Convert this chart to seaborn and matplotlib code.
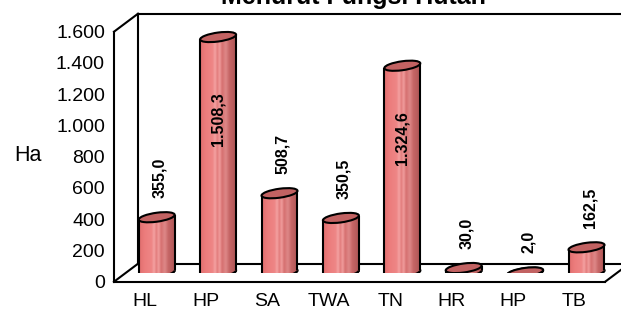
import numpy as np
import pandas as pd
import seaborn as sns
import matplotlib
matplotlib.use("Agg")
import matplotlib.pyplot as plt
import matplotlib.transforms as mtransforms
from matplotlib.patches import Ellipse, Arc
from matplotlib.path import Path
from matplotlib.lines import Line2D
from matplotlib.colors import LinearSegmentedColormap

# ---------------- data ----------------
title = "Menurut Fungsi Hutan"
y_label = "Ha"
categories = ["HL", "HP", "SA", "TWA", "TN", "HR", "HP", "TB"]
values = [355.0, 1508.3, 508.7, 350.5, 1324.6, 30.0, 2.0, 162.5]
y_ticks = [0, 200, 400, 600, 800, 1000, 1200, 1400, 1600]


def id_fmt(v, dec):
    s = f"{v:,.{dec}f}"
    return s.replace(",", "X").replace(".", ",").replace("X", ".")


value_labels = [id_fmt(v, 1) for v in values]
y_tick_labels = [id_fmt(t, 0) for t in y_ticks]

# ---------------- style ----------------
sns.set_style("white")
plt.rcParams["font.family"] = ["Liberation Sans", "DejaVu Sans"]
plt.rcParams["text.color"] = "black"
plt.rcParams["axes.labelcolor"] = "black"
plt.rcParams["xtick.color"] = "black"
plt.rcParams["ytick.color"] = "black"

W, H, DPI = 621, 310, 100
fig = plt.figure(figsize=(W / DPI, H / DPI), dpi=DPI)
fig.patch.set_facecolor("white")

# geometry (pixels)
x0_px, y0_px = 114, 28.3
cat_px = 61.4
val_px = 250 / 1600
depth = (24, 18)
mid = (12, 9)
ax_w, ax_h = W - x0_px, H - y0_px
xlim = (-0.5, -0.5 + ax_w / cat_px)
ylim = (0, ax_h / val_px)

ax = fig.add_axes([x0_px / W, y0_px / H, ax_w / W, ax_h / H])
axm = fig.add_axes([(x0_px + mid[0]) / W, (y0_px + mid[1]) / H, ax_w / W, ax_h / H])

LW = 1.5
n = len(categories)

# ---------------- front axes frame ----------------
for a in (ax, axm):
    a.set_xlim(*xlim)
    a.set_ylim(*ylim)
    a.set_autoscale_on(False)

ax.set_facecolor("white")
for s in ("top", "right"):
    ax.spines[s].set_visible(False)
ax.spines["left"].set_bounds(0, 1600)
ax.spines["bottom"].set_bounds(-0.5, n - 0.5)
for s in ("left", "bottom"):
    ax.spines[s].set_linewidth(LW)
    ax.spines[s].set_color("black")

ax.set_yticks(y_ticks)
ax.set_yticklabels(y_tick_labels)
ax.tick_params(axis="y", length=5, width=LW, pad=1.5, labelsize=14, colors="black")
ax.set_xticks(np.arange(n + 1) - 0.5)
ax.set_xticklabels([])
ax.set_xticks(np.arange(n), minor=True)
ax.set_xticklabels(categories, minor=True)
ax.tick_params(axis="x", which="major", length=5, width=LW, colors="black")
ax.tick_params(axis="x", which="minor", length=0, pad=8, labelsize=14, colors="black")

# 3-D box lines
ident = mtransforms.IdentityTransform()
def disp(a, x, y):
    return a.transData.transform((x, y))

fBL = disp(ax, -0.5, 0)
fTL = disp(ax, -0.5, 1600)
fBR = disp(ax, n - 0.5, 0)
off = np.array(depth)
bBL, bTL, bBR = fBL + off, fTL + off, fBR + off
bTR = bBR + np.array([0, fTL[1] - fBL[1]])
for p, q in [(fBL, bBL), (fTL, bTL), (fBR, bBR), (bBL, bTL), (bTL, bTR), (bBL, bBR)]:
    ax.add_line(Line2D([p[0], q[0]], [p[1], q[1]], transform=ident, clip_on=False,
                       color="black", lw=LW, solid_capstyle="projecting"))

# ---------------- cylinders ----------------
axm.patch.set_visible(False)

df = pd.DataFrame({"key": [str(i) for i in range(n)], "value": values})
bar_w = 0.586
body_col = "#D87272"
top_col = "#C26262"
sns.barplot(data=df, x="key", y="value", ax=axm, width=bar_w, color=body_col,
            saturation=1, errorbar=None)
axm.set_xlim(*xlim)
axm.set_ylim(*ylim)
axm.axis("off")

stops = [(0.0, "#E06E6E"), (0.15, "#EC7C7C"), (0.35, "#EE8686"), (0.42, "#F4A2A2"),
         (0.48, "#E27C7C"), (0.55, "#F09C9C"), (0.62, "#D67070"), (0.72, "#DE8888"),
         (0.82, "#C66666"), (1.0, "#AE5656")]
cmap = LinearSegmentedColormap.from_list("cyl", stops)
grad = np.linspace(0, 1, 128)[None, :].repeat(2, axis=0)

ell_h = 9 / val_px
b = ell_h / 2
shear = 7.5

for i, p in enumerate(axm.patches[:n]):
    x0 = p.get_x()
    w = p.get_width()
    v = p.get_height()
    xc = x0 + w / 2
    a = w / 2
    xcd, ycd = axm.transData.transform((xc, 0))
    T = axm.transData + mtransforms.Affine2D().translate(-xcd, 0).skew_deg(0, shear).translate(xcd, 0)

    axm.add_patch(Ellipse((xc, 0), w, ell_h, transform=T, facecolor=body_col,
                          edgecolor="black", lw=LW, zorder=2.0))
    p.set_transform(T)
    p.set_edgecolor("none")
    p.set_zorder(2.1)

    t = np.linspace(np.pi, 2 * np.pi, 60)
    pts = [(x0, v)] + list(zip(xc + a * np.cos(t), b * np.sin(t))) + [(x0 + w, v), (x0, v)]
    clip = Path(pts, closed=True)
    im = axm.imshow(grad, cmap=cmap, extent=[x0, x0 + w, -b, v + b], aspect="auto",
                    transform=T, interpolation="bilinear", zorder=2.2)
    im.set_clip_path(clip, transform=T)

    axm.add_patch(Arc((xc, 0), w, ell_h, theta1=180, theta2=360, transform=T,
                      edgecolor="black", lw=LW, zorder=2.3))
    axm.plot([x0, x0], [0, v], transform=T, color="black", lw=LW, zorder=2.4,
             solid_capstyle="butt")
    axm.plot([x0 + w, x0 + w], [0, v], transform=T, color="black", lw=LW, zorder=2.4,
             solid_capstyle="butt")
    axm.add_patch(Ellipse((xc, v), w, ell_h, transform=T, facecolor=top_col,
                          edgecolor="black", lw=LW, zorder=2.5))

    if v > 1000:
        axm.annotate(value_labels[i], (xc, v * 0.65), rotation=90, ha="center",
                     va="center", fontsize=11.5, fontweight="bold", color="black", zorder=3)
    else:
        axm.annotate(value_labels[i], (xc, v), xytext=(3, 19), textcoords="offset pixels",
                     rotation=90, ha="center", va="bottom", fontsize=11.5,
                     fontweight="bold", color="black", zorder=3)

axm.set_xlim(*xlim)
axm.set_ylim(*ylim)

# ---------------- texts ----------------
fig.text(28 / W, 1 - 156 / H, y_label, ha="center", va="center", fontsize=15.5,
         color="black")
fig.text(353 / W, 1 - 4 / H, title, ha="center", va="baseline", fontsize=18,
         fontweight="bold", color="black")

fig.savefig("out.png", dpi=DPI, facecolor="white")
